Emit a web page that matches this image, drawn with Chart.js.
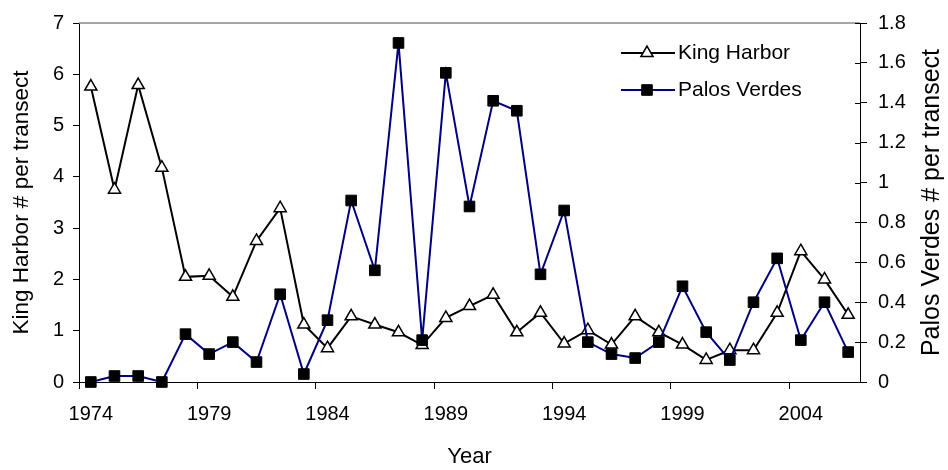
<!DOCTYPE html>
<html>
<head>
<meta charset="utf-8">
<script src="https://cdn.jsdelivr.net/npm/chart.js@4.4.0/dist/chart.umd.min.js"></script>
<style>
  html, body { margin: 0; padding: 0; background: #fff; }
  #myChart { display: block; }
</style>
</head>
<body>
<canvas id="myChart" width="948" height="470"></canvas>
<script>
var years = ['1974', '1975', '1976', '1977', '1978', '1979', '1980', '1981', '1982', '1983',
             '1984', '1985', '1986', '1987', '1988', '1989', '1990', '1991', '1992', '1993',
             '1994', '1995', '1996', '1997', '1998', '1999', '2000', '2001', '2002', '2003',
             '2004', '2005', '2006'];
var kingHarbor = [5.76, 3.75, 5.79, 4.18, 2.05, 2.07, 1.66, 2.75, 3.39, 1.12,
                  0.66, 1.28, 1.12, 0.97, 0.72, 1.25, 1.48, 1.70, 0.97, 1.35,
                  0.75, 1.01, 0.73, 1.28, 0.97, 0.73, 0.43, 0.62, 0.62, 1.35,
                  2.55, 2.00, 1.31];
var palosVerdes = [0, 0.03, 0.03, 0, 0.24, 0.14, 0.2, 0.1, 0.44, 0.04,
                   0.31, 0.91, 0.56, 1.7, 0.21, 1.55, 0.88, 1.41, 1.36, 0.54,
                   0.86, 0.2, 0.14, 0.12, 0.2, 0.48, 0.25, 0.11, 0.4, 0.62,
                   0.21, 0.4, 0.15];
var yearLabels = ['1974', '1979', '1984', '1989', '1994', '1999', '2004'];
var leftTicks = [0, 1, 2, 3, 4, 5, 6, 7];
var rightTicks = [0, 0.2, 0.4, 0.6, 0.8, 1, 1.2, 1.4, 1.6, 1.8];

var FONT = "'Liberation Sans', Arial, sans-serif";

// frame top line, inner ticks on right axis, legend and right axis title
var extras = {
  id: 'extras',
  afterDraw: function(chart) {
    var ctx = chart.ctx, a = chart.chartArea;
    var y1 = chart.scales.y1;
    ctx.save();
    ctx.strokeStyle = '#888';
    ctx.lineWidth = 1.5;
    ctx.beginPath();
    ctx.moveTo(a.left, a.top);
    ctx.lineTo(a.right, a.top);
    ctx.stroke();

    ctx.strokeStyle = '#000';
    ctx.lineWidth = 1;
    y1.ticks.forEach(function(t) {
      var py = Math.round(y1.getPixelForValue(t.value)) + 0.5;
      ctx.beginPath();
      ctx.moveTo(a.right - 5, py);
      ctx.lineTo(a.right, py);
      ctx.stroke();
    });

    ctx.font = '21px ' + FONT;
    ctx.textBaseline = 'middle';
    chart.data.datasets.forEach(function(ds, i) {
      var y = 53 + i * 37;
      ctx.strokeStyle = ds.borderColor;
      ctx.lineWidth = ds.borderWidth;
      ctx.beginPath();
      ctx.moveTo(621, y);
      ctx.lineTo(675, y);
      ctx.stroke();
      ctx.fillStyle = ds.pointBackgroundColor;
      ctx.strokeStyle = ds.pointBorderColor;
      ctx.lineWidth = ds.pointBorderWidth;
      Chart.helpers.drawPoint(ctx, {pointStyle: ds.pointStyle, radius: ds.pointRadius, rotation: 0, borderWidth: ds.pointBorderWidth}, 647, y);
      ctx.fillStyle = '#000';
      ctx.textAlign = 'left';
      ctx.fillText(ds.label, 678, y);
    });

    ctx.translate(932, (a.top + a.bottom) / 2);
    ctx.rotate(-Math.PI / 2);
    ctx.font = '25px ' + FONT;
    ctx.fillStyle = '#000';
    ctx.textAlign = 'center';
    ctx.fillText('Palos Verdes # per transect', 0, 0);
    ctx.restore();
  }
};

var ctx = document.getElementById('myChart');
var myChart = new Chart(ctx, {
  type: 'line',
  data: {
    labels: years,
    datasets: [
      {
        label: 'King Harbor',
        data: kingHarbor,
        yAxisID: 'y',
        order: 1,
        borderColor: '#000',
        borderWidth: 2,
        pointStyle: 'triangle',
        pointRadius: 7,
        pointBackgroundColor: '#fff',
        pointBorderColor: '#000',
        pointBorderWidth: 1.5,
        tension: 0,
        clip: false
      },
      {
        label: 'Palos Verdes',
        data: palosVerdes,
        yAxisID: 'y1',
        order: 0,
        borderColor: '#000080',
        borderWidth: 2,
        pointStyle: 'rect',
        pointRadius: 7.5,
        pointBackgroundColor: '#000',
        pointBorderColor: '#000',
        pointBorderWidth: 1,
        tension: 0,
        clip: false
      }
    ]
  },
  options: {
    responsive: false,
    animation: false,
    layout: { padding: { top: 20, left: 0, right: 0, bottom: 0 } },
    plugins: {
      legend: { display: false },
      tooltip: { enabled: false }
    },
    scales: {
      x: {
        type: 'category',
        offset: true,
        grid: {
          offset: true,
          drawOnChartArea: false,
          tickLength: 7,
          color: function(c) { return c.index % 5 === 0 ? '#000' : 'rgba(0,0,0,0)'; }
        },
        border: { color: '#000', width: 1 },
        ticks: {
          autoSkip: false,
          maxRotation: 0,
          minRotation: 0,
          padding: 13,
          color: '#000',
          font: { family: FONT, size: 20 },
          callback: function(v) {
            var l = this.getLabelForValue(v);
            return yearLabels.indexOf(l) >= 0 ? l : '';
          }
        },
        title: {
          display: true,
          text: 'Year',
          color: '#000',
          font: { family: FONT, size: 22 },
          padding: { top: 0, bottom: 0 }
        },
        afterFit: function(s) { s.height = 88; }
      },
      y: {
        position: 'left',
        min: 0,
        max: 7,
        grid: { drawOnChartArea: false, tickLength: 6, color: '#000' },
        border: { color: '#000', width: 1 },
        ticks: { padding: 9, color: '#000', font: { family: FONT, size: 20 } },
        afterBuildTicks: function(s) { s.ticks = leftTicks.map(function(v) { return { value: v }; }); },
        title: {
          display: true,
          text: 'King Harbor # per transect',
          color: '#000',
          font: { family: FONT, size: 22.5 },
          padding: { top: 8, bottom: 0 }
        },
        afterFit: function(s) { s.width = 79; }
      },
      y1: {
        position: 'right',
        min: 0,
        max: 1.8,
        grid: { drawOnChartArea: false, tickLength: 7, color: '#000' },
        border: { color: '#000', width: 1 },
        ticks: {
          padding: 11,
          color: '#000',
          font: { family: FONT, size: 20 },
          callback: function(v) { return String(parseFloat(v.toFixed(1))); }
        },
        afterBuildTicks: function(s) { s.ticks = rightTicks.map(function(v) { return { value: v }; }); },
        afterFit: function(s) { s.width = 88; }
      }
    }
  },
  plugins: [extras]
});
</script>
</body>
</html>
